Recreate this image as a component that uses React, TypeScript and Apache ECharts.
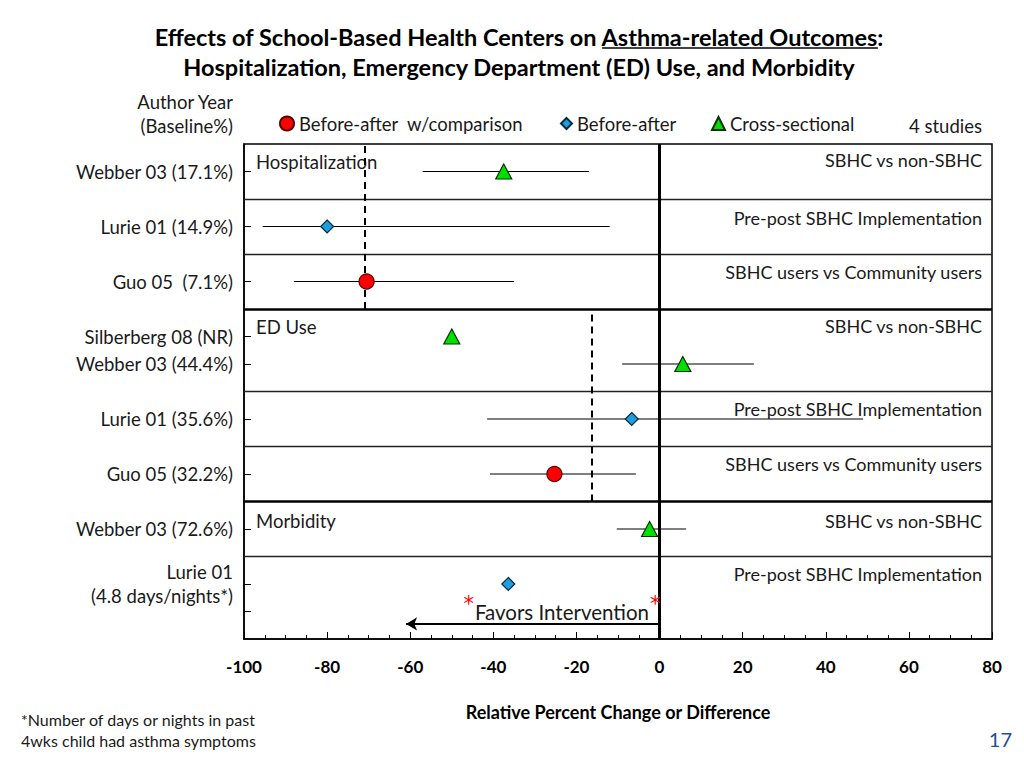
import React, { useEffect, useRef } from "react";
import * as echarts from "echarts";

// ---- data ----
const studyLabels = [
  "Webber 03 (17.1%)",
  "Lurie 01 (14.9%)",
  "Guo 05  (7.1%)",
  "Silberberg 08 (NR)",
  "Webber 03 (44.4%)",
  "Lurie 01 (35.6%)",
  "Guo 05 (32.2%)",
  "Webber 03 (72.6%)",
  "Lurie 01\n(4.8 days/nights*)",
];
const rowPositions = [17, 15, 13, 11, 10, 8, 6, 4, 2];
const effects = [-37.5, -80, -70.5, -50, 5.6, -6.7, -25.3, -2.4, -36.4];
const ciLow: (number | null)[] = [-57, -95.5, -88, null, -9, -41.5, -40.8, -10.3, null];
const ciHigh: (number | null)[] = [-17, -12, -35, null, 22.7, 49, -5.7, 6.4, null];
const designs = ["cs", "ba", "bac", "cs", "cs", "ba", "bac", "cs", "ba"];
const extraTicks = [1];

const pooledValues = [-71, -16.4];
const pooledFrom = [12, 5];
const pooledTo = [18, 12];

const thinSeparators = [16, 14, 9, 7, 3];
const thickSeparators = [12, 5];

const xTicks = [-100, -80, -60, -40, -20, 0, 20, 40, 60, 80];
const favorsArrowEnd = -61;
const favorsArrowY = 0.55;

const designNames: Record<string, string> = {
  bac: "Before-after  w/comparison",
  ba: "Before-after",
  cs: "Cross-sectional",
};

const FONT = "Lato, 'Open Sans', sans-serif";
const BODY = 18.5;
const TITLE = 23.5;
const titlePrefix = "Effects of School-Based Health Centers on ";
const titleUnderlined = "Asthma-related Outcomes";
const titleSuffix = ":";
const titleLine2 = "Hospitalization, Emergency Department (ED) Use, and Morbidity";
const favorsText = "Favors Intervention";

function measure(text: string, font: string) {
  const c = document.createElement("canvas").getContext("2d");
  if (!c) return text.length * 10;
  c.font = font;
  return c.measureText(text).width;
}

export default function App() {
  const ref = useRef<HTMLDivElement>(null);
  useEffect(() => {
    document.body.style.margin = "0";
    if (!ref.current) return;
    const chart = echarts.init(ref.current, null, { renderer: "svg" });

    const labelMap: Record<number, string> = {};
    rowPositions.forEach((p, i) => (labelMap[p] = studyLabels[i]));

    const pts = (d: string) =>
      effects
        .map((v, i) => (designs[i] === d ? [v, rowPositions[i]] : null))
        .filter((x) => x !== null);

    const ciData = effects
      .map((_, i) =>
        ciLow[i] !== null ? [ciLow[i], ciHigh[i], rowPositions[i]] : null
      )
      .filter((x) => x !== null);

    const sepLines = [
      ...thinSeparators.map((y) => ({
        yAxis: y,
        lineStyle: { color: "#222", width: 1.3, type: "solid" },
      })),
      ...thickSeparators.map((y) => ({
        yAxis: y,
        lineStyle: { color: "#000", width: 2.6, type: "solid" },
      })),
      {
        xAxis: 0,
        lineStyle: { color: "#000", width: 3, type: "solid" },
      },
    ];
    const pooledLines = pooledValues.map((v, i) => [
      { coord: [v, pooledFrom[i]] },
      { coord: [v, pooledTo[i]] },
    ]);

    const titleFont = `bold ${TITLE}px Lato`;
    const fullW = measure(titlePrefix + titleUnderlined + titleSuffix, titleFont);
    const preW = measure(titlePrefix, titleFont);
    const ulW = measure(titleUnderlined, titleFont);
    const titleCx = 519;
    const ulX1 = titleCx - fullW / 2 + preW;
    const ulX2 = ulX1 + ulW;

    const favorsSize = 20.5;
    const favorsW = measure(favorsText, `${favorsSize}px Lato`);
    const favorsCx = 562;

    const textStyle = { fontFamily: FONT, fontSize: BODY, fill: "#1a1a1a" };
    const rightLabels = [
      ["SBHC vs non-SBHC", 160],
      ["Pre-post SBHC Implementation", 218],
      ["SBHC users vs Community users", 272],
      ["SBHC vs non-SBHC", 326],
      ["Pre-post SBHC Implementation", 409],
      ["SBHC users vs Community users", 464],
      ["SBHC vs non-SBHC", 521],
      ["Pre-post SBHC Implementation", 574],
    ];
    const sectionLabels = [
      ["Hospitalization", 162],
      ["ED Use", 327],
      ["Morbidity", 521],
    ];

    const asteriskStyle = {
      fontFamily: "'DejaVu Sans', sans-serif",
      fontSize: 21,
      fill: "#ff0000",
      text: "*",
      verticalAlign: "middle",
    };

    const graphic: any[] = [
      {
        type: "text",
        x: titleCx,
        y: 37,
        style: {
          text: titlePrefix + titleUnderlined + titleSuffix,
          fontFamily: FONT,
          fontWeight: "bold",
          fontSize: TITLE,
          fill: "#000",
          align: "center",
          verticalAlign: "middle",
        },
      },
      {
        type: "text",
        x: titleCx,
        y: 67,
        style: {
          text: titleLine2,
          fontFamily: FONT,
          fontWeight: "bold",
          fontSize: TITLE,
          fill: "#000",
          align: "center",
          verticalAlign: "middle",
        },
      },
      {
        type: "line",
        shape: { x1: ulX1, y1: 48, x2: ulX2, y2: 48 },
        style: { stroke: "#000", lineWidth: 1.5 },
      },
      {
        type: "text",
        x: 233,
        y: 102,
        style: { ...textStyle, text: "Author Year", align: "right", verticalAlign: "middle" },
      },
      {
        type: "text",
        x: 233,
        y: 126,
        style: { ...textStyle, text: "(Baseline%)", align: "right", verticalAlign: "middle" },
      },
      {
        type: "text",
        x: 982,
        y: 126,
        style: { ...textStyle, text: "4 studies", align: "right", verticalAlign: "middle" },
      },
      ...rightLabels.map(([t, y]) => ({
        type: "text",
        x: 982,
        y,
        z: 10,
        style: { ...textStyle, fontSize: 18, text: t, align: "right", verticalAlign: "middle" },
      })),
      ...sectionLabels.map(([t, y]) => ({
        type: "text",
        x: 256,
        y,
        z: 1,
        style: { ...textStyle, text: t, align: "left", verticalAlign: "middle" },
      })),
      {
        type: "text",
        x: favorsCx,
        y: 612,
        z: 10,
        style: {
          ...textStyle,
          fontSize: favorsSize,
          text: favorsText,
          align: "center",
          verticalAlign: "middle",
        },
      },
      {
        type: "text",
        x: favorsCx - favorsW / 2 - 1,
        y: 604,
        z: 10,
        style: { ...asteriskStyle, align: "right" },
      },
      {
        type: "text",
        x: favorsCx + favorsW / 2 + 1,
        y: 604,
        z: 10,
        style: { ...asteriskStyle, align: "left" },
      },
      {
        type: "text",
        x: 21,
        y: 719,
        style: { ...textStyle, fontSize: 16, text: "*Number of days or nights in past", align: "left", verticalAlign: "middle" },
      },
      {
        type: "text",
        x: 21,
        y: 740,
        style: { ...textStyle, fontSize: 16, text: "4wks child had asthma symptoms", align: "left", verticalAlign: "middle" },
      },
      {
        type: "text",
        x: 1012,
        y: 739,
        style: { fontFamily: FONT, fontSize: 20, fill: "#1f4e9c", text: "17", align: "right", verticalAlign: "middle" },
      },
    ];

    const markerStyles: Record<string, any> = {
      bac: { symbol: "circle", symbolSize: 15, color: "#ff0000", border: "#5a0000" },
      ba: { symbol: "diamond", symbolSize: 13, color: "#1e9fdc", border: "#062b40" },
      cs: { symbol: "triangle", symbolSize: [16, 15], color: "#00e000", border: "#003300" },
    };

    const scatterSeries = ["bac", "ba", "cs"].map((d) => ({
      type: "scatter",
      name: designNames[d],
      data: pts(d),
      symbol: markerStyles[d].symbol,
      symbolSize: markerStyles[d].symbolSize,
      z: 5,
      itemStyle: {
        color: markerStyles[d].color,
        borderColor: markerStyles[d].border,
        borderWidth: 1.2,
        opacity: 1,
      },
    }));

    const legendLefts = [274, 555, 706];
    const legendIconSizes = [14, 11, 13];

    chart.setOption({
      animation: false,
      textStyle: { fontFamily: FONT },
      legend: ["bac", "ba", "cs"].map((d, i) => ({
        data: [designNames[d]],
        left: legendLefts[i],
        top: 109,
        itemWidth: legendIconSizes[i],
        itemHeight: legendIconSizes[i],
        itemGap: 5,
        selectedMode: false,
        textStyle: { fontFamily: FONT, fontSize: BODY, color: "#1a1a1a", padding: [0, 0, 0, 0] },
      })),
      grid: {
        left: 244,
        right: 32,
        top: 144,
        bottom: 129,
        show: true,
        borderColor: "#000",
        borderWidth: 1.5,
        backgroundColor: "transparent",
      },
      xAxis: {
        type: "value",
        min: -100,
        max: 80,
        interval: 20,
        name: "Relative Percent Change or Difference",
        nameLocation: "middle",
        nameGap: 64,
        nameTextStyle: { fontFamily: FONT, fontWeight: "bold", fontSize: 18, color: "#000" },
        axisLine: { show: true, onZero: false, lineStyle: { color: "#000", width: 1.5 } },
        axisTick: { show: true, inside: true, length: 7, lineStyle: { color: "#000", width: 1 } },
        minorTick: { show: true, splitNumber: 4, length: 4, lineStyle: { color: "#000", width: 1 } },
        splitLine: { show: false },
        axisLabel: {
          margin: 19,
          fontFamily: FONT,
          fontWeight: "bold",
          fontSize: 17,
          color: "#000",
          customValues: xTicks,
        },
      },
      yAxis: {
        type: "value",
        min: 0,
        max: 18,
        interval: 1,
        axisLine: { show: true, onZero: false, lineStyle: { color: "#000", width: 1.5 } },
        axisTick: {
          show: true,
          inside: true,
          length: 7,
          lineStyle: { color: "#000", width: 1 },
          customValues: [...rowPositions, ...extraTicks],
        },
        splitLine: { show: false },
        axisLabel: {
          margin: 11,
          fontFamily: FONT,
          fontSize: BODY,
          color: "#1a1a1a",
          lineHeight: 24,
          customValues: rowPositions,
          formatter: (v: number) => labelMap[v] ?? "",
        },
      },
      graphic,
      series: [
        {
          type: "custom",
          name: "ci",
          data: ciData,
          z: 3,
          renderItem: (params: any, api: any) => {
            const y = api.value(2);
            const p1 = api.coord([api.value(0), y]);
            const p2 = api.coord([api.value(1), y]);
            return {
              type: "line",
              shape: { x1: p1[0], y1: p1[1], x2: p2[0], y2: p2[1] },
              style: { stroke: "#000", lineWidth: 1.2 },
            };
          },
          markLine: {
            silent: true,
            symbol: "none",
            label: { show: false },
            data: [
              ...sepLines,
              ...pooledLines.map((pair) => [
                { ...pair[0], lineStyle: { color: "#000", width: 2, type: [7, 5] } },
                pair[1],
              ]),
              [
                { coord: [0, favorsArrowY], symbol: "none", lineStyle: { color: "#000", width: 2.2, type: "solid" } },
                { coord: [favorsArrowEnd, favorsArrowY], symbol: "arrow", symbolSize: [10, 11] },
              ],
            ],
          },
        },
        ...scatterSeries,
      ],
    });

    return () => chart.dispose();
  }, []);
  return <div ref={ref} style={{ width: 1024, height: 768 }} />;
}
